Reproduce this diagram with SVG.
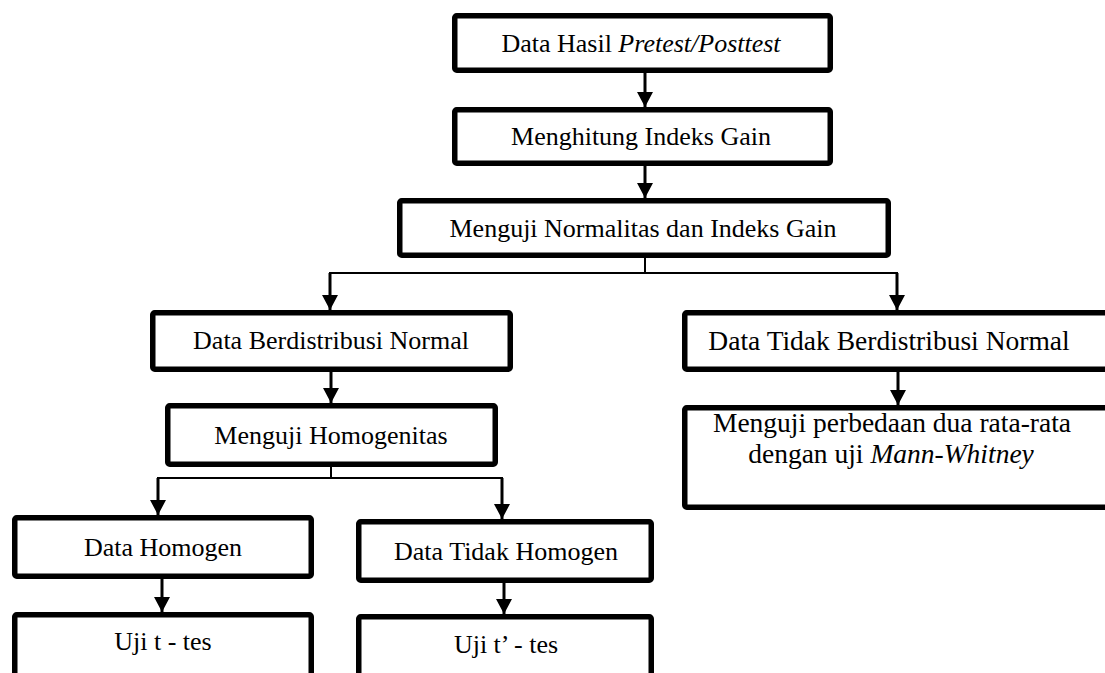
<svg xmlns="http://www.w3.org/2000/svg" width="1105" height="673" viewBox="0 0 1105 673">
<defs>
<marker id="ah" markerUnits="userSpaceOnUse" markerWidth="16" markerHeight="16" viewBox="0 0 16 16" refX="15" refY="8" orient="auto">
<path d="M0,0 L15,8 L0,16 Z" fill="#000"/>
</marker>
<style>
.box{fill:#fff;stroke:#000;stroke-width:5.5;stroke-linejoin:round}
.t{font-family:"Liberation Serif","Times New Roman",serif;font-size:26px;fill:#000;text-anchor:middle}
.r{font-size:27.5px}
.i{font-style:italic}
.c{fill:none;stroke:#000;stroke-width:2}
.a{fill:none;stroke:#000;stroke-width:3;marker-end:url(#ah)}
</style>
</defs>
<rect width="1105" height="673" fill="#fff"/>
<g id="connectors">
<line class="a" x1="645" y1="73" x2="645" y2="107"/>
<line class="a" x1="645" y1="166" x2="645" y2="198"/>
<line class="c" x1="645" y1="258" x2="645" y2="273"/>
<polyline class="c" points="330,300 330,273 897,273 897,300"/>
<line class="a" x1="330" y1="273" x2="330" y2="310"/>
<line class="a" x1="897" y1="273" x2="897" y2="310"/>
<line class="a" x1="331" y1="372" x2="331" y2="403"/>
<line class="a" x1="898" y1="372" x2="898" y2="405"/>
<line class="c" x1="331" y1="467" x2="331" y2="478"/>
<polyline class="c" points="158,500 158,478 502,478 502,500"/>
<line class="a" x1="158" y1="478" x2="158" y2="515"/>
<line class="a" x1="502" y1="478" x2="502" y2="519"/>
<line class="a" x1="162" y1="579" x2="162" y2="612"/>
<line class="a" x1="504" y1="583" x2="504" y2="614"/>
</g>
<g id="n1"><rect class="box" x="454.75" y="15.75" width="375.5" height="54.5" rx="2"/>
<text class="t" x="641" y="52">Data Hasil <tspan class="i">Pretest/Posttest</tspan></text></g>
<g id="n2"><rect class="box" x="454.75" y="109.75" width="375.5" height="53.5" rx="2"/>
<text class="t" x="641" y="145">Menghitung Indeks Gain</text></g>
<g id="n3"><rect class="box" x="399.75" y="200.75" width="488.5" height="54.5" rx="2"/>
<text class="t" x="643" y="237">Menguji Normalitas dan Indeks Gain</text></g>
<g id="n4"><rect class="box" x="152.75" y="312.75" width="357.5" height="56.5" rx="2"/>
<text class="t" x="331" y="349">Data Berdistribusi Normal</text></g>
<g id="n5"><rect class="box" x="684.75" y="312.75" width="430" height="56.5" rx="2"/>
<text class="t r" x="889" y="350">Data Tidak Berdistribusi Normal</text></g>
<g id="n6"><rect class="box" x="167.75" y="405.75" width="327.5" height="58.5" rx="2"/>
<text class="t" x="331" y="444">Menguji Homogenitas</text></g>
<g id="n7"><rect class="box" x="684.75" y="407.75" width="430" height="99.5" rx="2"/>
<text class="t r" x="892" y="432">Menguji perbedaan dua rata-rata</text>
<text class="t r" x="891" y="463">dengan uji <tspan class="i">Mann-Whitney</tspan></text></g>
<g id="n8"><rect class="box" x="14.75" y="517.75" width="296.5" height="58.5" rx="2"/>
<text class="t" x="163" y="556">Data Homogen</text></g>
<g id="n9"><rect class="box" x="358.75" y="521.75" width="292.5" height="58.5" rx="2"/>
<text class="t" x="506" y="560">Data Tidak Homogen</text></g>
<g id="n10"><rect class="box" x="14.75" y="614.75" width="296.5" height="80" rx="2"/>
<text class="t" x="163" y="650">Uji t - tes</text></g>
<g id="n11"><rect class="box" x="358.75" y="616.75" width="292.5" height="80" rx="2"/>
<text class="t" x="506" y="653">Uji t’ - tes</text></g>
</svg>
